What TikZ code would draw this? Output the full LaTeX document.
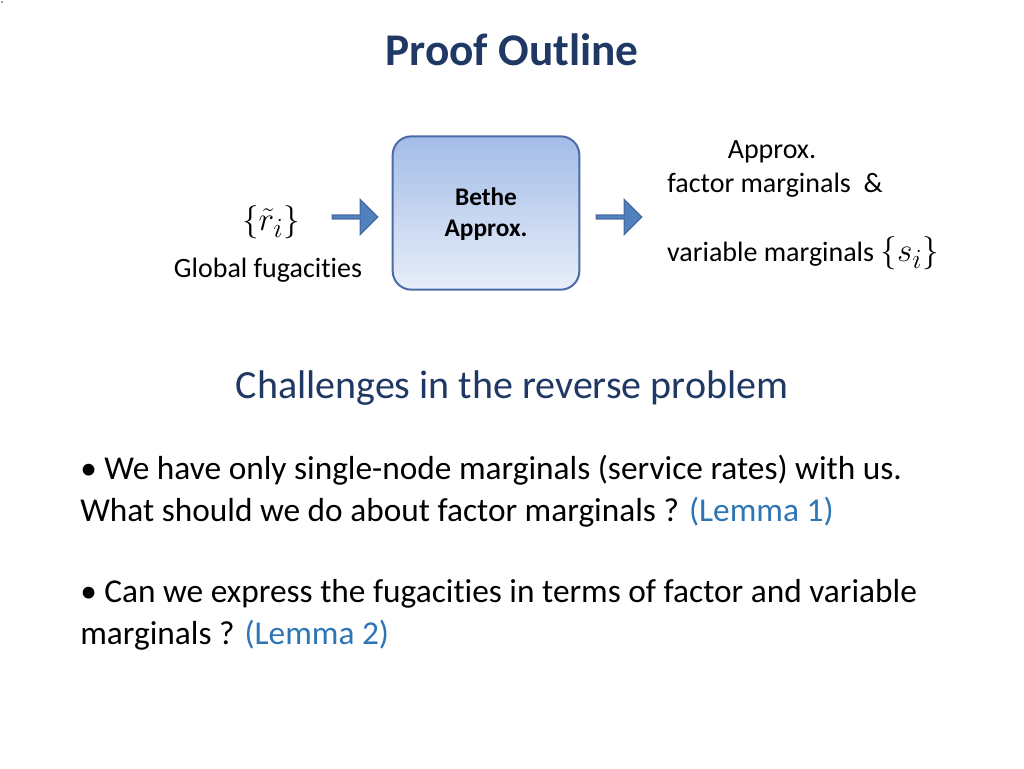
\documentclass[tikz,border=0pt]{standalone}
\usepackage{fontspec}
\setmainfont{Carlito}[Ligatures=NoCommon]
\usepackage{amsmath}
\usetikzlibrary{shapes.arrows}
\definecolor{titleblue}{HTML}{1F3864}
\definecolor{lemmablue}{HTML}{2E75B6}
\definecolor{boxtop}{HTML}{A3BCE8}
\definecolor{boxbot}{HTML}{E8EEF9}
\definecolor{boxline}{HTML}{4A6BA5}
\definecolor{arrowfill}{HTML}{4F81BD}
\tikzset{
  blockarrow/.style={single arrow, draw=boxline, fill=arrowfill, line width=1pt,
    minimum width=26pt, single arrow head extend=4pt, minimum height=34pt, inner sep=0pt},
  body/.style={anchor=west, font=\fontsize{25}{30}\selectfont, inner sep=0pt},
  small/.style={font=\fontsize{21}{25}\selectfont, inner sep=0pt}
}
\begin{document}
\begin{tikzpicture}[x=0.75pt,y=-0.75pt]
\useasboundingbox (0,0) rectangle (1024,768);
\fill[lemmablue] (2,2) circle (1);
\node[font=\fontsize{34}{40}\selectfont\bfseries, text=titleblue] (title) at (512,50) {Proof Outline};
% block diagram
\node[draw=boxline, line width=1.5pt, rounded corners=14pt, top color=boxtop, bottom color=boxbot,
  minimum width=140pt, minimum height=115pt] (bethe) at (486,213) {};
\node[font=\fontsize{19}{22}\selectfont\bfseries, align=center, inner sep=0pt] (bethelbl) at (486,214) {Bethe\\[1pt]Approx.};
\node[blockarrow] (arrowin) at (354,217) {};
\node[blockarrow] (arrowout) at (618,217) {};
\node[font=\fontsize{31}{36}\selectfont, inner sep=0pt] (rin) at (271,222) {$\{\tilde r_i\}$};
\node[small] (glob) at (268,270) {Global fugacities};
\node[small] (appr) at (772,152) {Approx.};
\node[small] (facm) at (775,185) {factor marginals\ \ \&};
\node[small] (varm) at (803,253) {variable marginals {\fontsize{30}{34}\selectfont$\{s_i\}$}};
% challenges
\node[font=\fontsize{30}{36}\selectfont, text=titleblue] (chal) at (512,388) {Challenges in the reverse problem};
\node[body] (b1a) at (80,470) {\textbullet\ We have only single-node marginals (service rates) with us.};
\node[body] (b1b) at (80,512) {What should we do about factor marginals ? \textcolor{lemmablue}{(Lemma 1)}};
\node[body] (b2a) at (80,594) {\textbullet\ Can we express the fugacities in terms of factor and variable};
\node[body] (b2b) at (80,635) {marginals ? \textcolor{lemmablue}{(Lemma 2)}};
\end{tikzpicture}
\end{document}
